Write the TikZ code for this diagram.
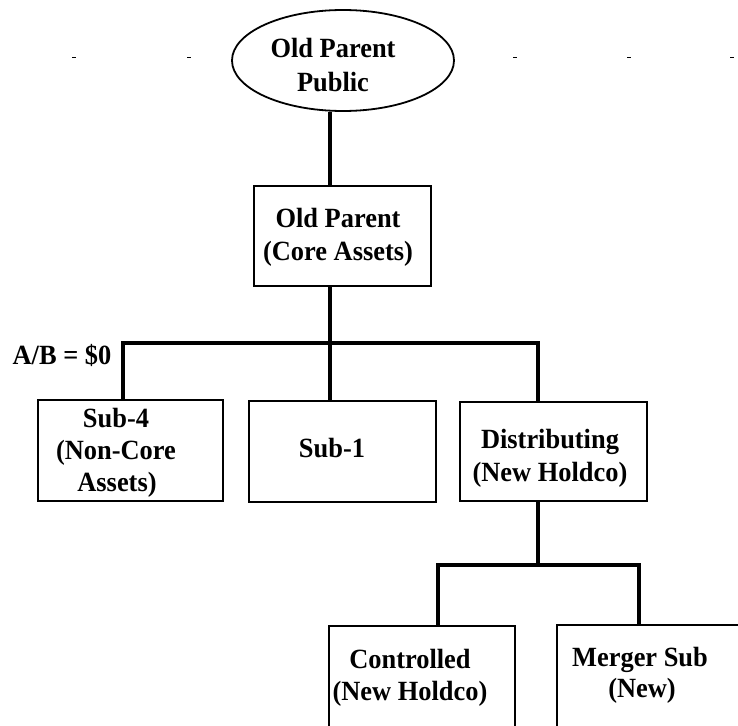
\documentclass[tikz,border=0pt]{standalone}
\usepackage{fontspec}
\setmainfont{Liberation Serif}
\newfontfamily\chartfont[FakeStretch=0.95]{Liberation Serif}
\usetikzlibrary{shapes.geometric}
\begin{document}
\begin{tikzpicture}[x=1pt,y=-1pt,
  entity/.style={draw,line width=2.2pt,rectangle,inner sep=0pt},
  owner/.style={draw,line width=1.8pt,ellipse,inner sep=0pt},
  conn/.style={line width=3.2pt},
  lbl/.style={anchor=base,inner sep=0pt,font=\chartfont\fontsize{27.8}{33}\selectfont\bfseries},
  tick/.style={line width=1pt}]
\useasboundingbox (0,0) rectangle (738,725);
\clip (0,0) rectangle (738,725);

% shareholders
\node[owner,minimum width=222pt,minimum height=101pt] (opp) at (343,60.5) {};
\node[lbl] (opp1) at (333,58) {Old Parent};
\node[lbl] (opp2) at (333,91) {Public};

% small rule marks on the shareholder line
\foreach \x in {74,189,515,629,732}
  \draw[tick] (\x-2,58) -- (\x+2,58);

% entities
\node[entity,minimum width=177pt,minimum height=100pt] (opc) at (342.5,236) {};
\node[lbl] (opc1) at (338,227) {Old Parent};
\node[lbl] (opc2) at (338,260) {(Core Assets)};

\node[entity,minimum width=185pt,minimum height=101pt] (sub4) at (130.5,450.5) {};
\node[lbl] (sub4a) at (116,427) {Sub-4};
\node[lbl] (sub4b) at (116,459) {(Non-Core};
\node[lbl] (sub4c) at (117,491) {Assets)};

\node[entity,minimum width=187pt,minimum height=101pt] (sub1) at (342.5,451.5) {};
\node[lbl] (sub1a) at (332,457) {Sub-1};

\node[entity,minimum width=187pt,minimum height=99pt] (dist) at (553.5,451.5) {};
\node[lbl] (dista) at (550,448) {Distributing};
\node[lbl] (distb) at (550,481) {(New Holdco)};

\node[entity,minimum width=186pt,minimum height=130pt] (ctrl) at (422,691) {};
\node[lbl] (ctrla) at (410,668) {Controlled};
\node[lbl] (ctrlb) at (410,700) {(New Holdco)};

\node[entity,minimum width=220pt,minimum height=130pt] (msub) at (667,690) {};
\node[lbl] (msuba) at (640,666) {Merger Sub};
\node[lbl] (msubb) at (642,697) {(New)};

\node[lbl] (ab) at (62,364) {A/B = \$0};

% ownership lines
\coordinate (trunk) at (330,343);
\coordinate (j4) at (123,343);
\coordinate (jd) at (538,343);
\draw[conn] (opp.south -| trunk) -- (opc.north -| trunk);
\draw[conn] (opc.south -| trunk) -- (trunk);
\draw[conn] (sub4.north -| j4) -- (j4) -- (jd) -- (dist.north -| jd);
\draw[conn] (trunk) -- (sub1.north -| trunk);

\coordinate (k) at (538,565);
\coordinate (kc) at (438,565);
\coordinate (km) at (639,565);
\draw[conn] (dist.south -| k) -- (k);
\draw[conn] (ctrl.north -| kc) -- (kc) -- (km) -- (msub.north -| km);
\end{tikzpicture}
\end{document}
